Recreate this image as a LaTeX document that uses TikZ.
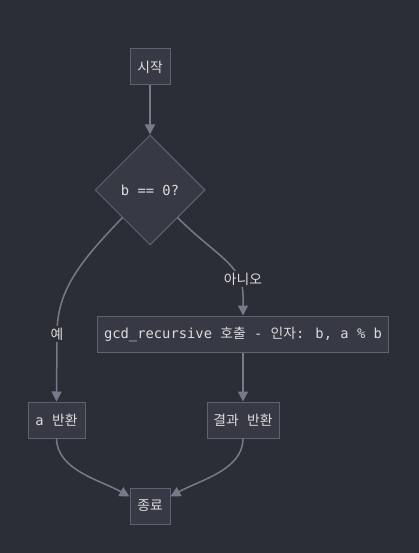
\documentclass[tikz,border=0pt]{standalone}
\usepackage{fontspec}
\setmainfont{DejaVu Sans Mono}
\newfontfamily\kr{Noto Sans CJK KR}
\usetikzlibrary{shapes.geometric,arrows.meta,calc}
\definecolor{bg}{HTML}{2B2E37}
\definecolor{nodefill}{HTML}{373A45}
\definecolor{nodeline}{HTML}{5E6373}
\definecolor{edgecol}{HTML}{767B8A}
\definecolor{txt}{HTML}{DCDCDC}
\tikzset{
  box/.style={draw=nodeline, fill=nodefill, line width=1pt, text=txt, minimum height=36pt, inner sep=0pt, font=\fontsize{13.8}{16}\selectfont},
  dec/.style={box, shape=diamond, minimum width=110pt, minimum height=110pt},
  flow/.style={draw=edgecol, line width=1.5pt, -{Triangle[length=10pt,width=10pt]}},
  lbl/.style={fill=bg, text=txt, inner sep=2pt, font=\fontsize{13.8}{16}\selectfont}
}
\begin{document}
\begin{tikzpicture}[x=1pt,y=-1pt]
\fill[bg] (0,0) rectangle (419,553);
\useasboundingbox (0,0) rectangle (419,553);
\node[box, minimum width=40pt] (s) at (150,67) {\kr 시작};
\node[dec] (d) at (150,190) {b == 0?};
\node[box, minimum width=291pt] (r) at (243,334) {gcd\_recursive {\kr 호출} - {\kr 인자}: b, a \% b};
\node[box, minimum width=57pt] (a) at (56.5,420) {a {\kr 반환}};
\node[box, minimum width=72pt] (g) at (243,420) {{\kr 결과} {\kr 반환}};
\node[box, minimum width=40pt] (e) at (150,506) {\kr 종료};
\coordinate (el) at ($(e.north west)+(0,9)$);
\coordinate (er) at ($(e.north east)+(0,9)$);
\draw[flow] (s) -- (d);
\draw[flow] (d.south west) .. controls (80,262) and (57,290) .. (57,334) -- (a.north);
\node[lbl] (yes) at (57,334) {\kr 예};
\draw[flow] (d.south east) .. controls (215,255) and (243,265) .. (243,295) -- (r.north);
\node[lbl] (no) at (243,279) {\kr 아니오};
\draw[flow] (r) -- (g);
\draw[flow] (a.south) .. controls (57,470) and (100,480) .. (el);
\draw[flow] (g.south) .. controls (243,470) and (200,480) .. (er);
\end{tikzpicture}
\end{document}
